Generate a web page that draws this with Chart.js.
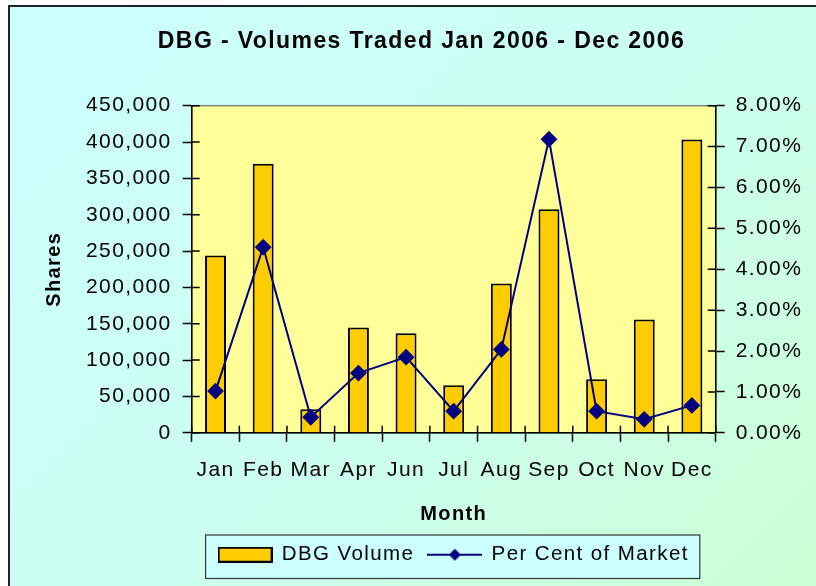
<!DOCTYPE html>
<html>
<head>
  <title>DBG - Volumes Traded</title>
  <script src="https://cdn.jsdelivr.net/npm/chart.js"></script>
  <style>
    body {
      margin: 0;
      background: #fff;
      width: 816px;
      height: 586px;
      overflow: hidden;
      position: relative;
    }
    #frame {
      position: absolute;
      left: 8px;
      top: 5px;
      width: 900px;
      height: 700px;
      border: 2px solid #222;
      background: linear-gradient(135deg, #ccffff 0%, #ccfff0 45%, #ccffcc 100%);
    }
    #myChart {
      position: absolute;
      left: 0;
      top: 0;
    }
  </style>
</head>
<body>
  <div id="frame"></div>
  <canvas id="myChart" width="816" height="586"></canvas>

  <script>
    const months = ['Jan', 'Feb', 'Mar', 'Apr', 'Jun', 'Jul', 'Aug', 'Sep', 'Oct', 'Nov', 'Dec'];
    const volumes = [244000, 370000, 32500, 145000, 137000, 65500, 205500, 307500, 73500, 156000, 403500];
    const percentOfMarket = [1.02, 4.54, 0.38, 1.46, 1.85, 0.53, 2.04, 7.18, 0.53, 0.33, 0.67];
    const volumeMax = 450000;
    const volumeStep = 50000;
    const percentMax = 8;
    const percentStep = 1;

    const SPACING = '1.4px';

    // legend symbols
    const barSwatch = document.createElement('canvas');
    barSwatch.width = 55;
    barSwatch.height = 16;
    (function () {
      const c = barSwatch.getContext('2d');
      c.fillStyle = '#ffcc00';
      c.fillRect(1, 1, 53, 14);
      c.strokeStyle = '#000';
      c.lineWidth = 2;
      c.strokeRect(1, 1, 53, 14);
    })();

    const lineSwatch = document.createElement('canvas');
    lineSwatch.width = 55;
    lineSwatch.height = 16;
    (function () {
      const c = lineSwatch.getContext('2d');
      c.strokeStyle = '#000080';
      c.lineWidth = 2;
      c.beginPath();
      c.moveTo(0, 8);
      c.lineTo(55, 8);
      c.stroke();
      c.fillStyle = '#000080';
      c.beginPath();
      c.moveTo(27.5, 2);
      c.lineTo(33.5, 8);
      c.lineTo(27.5, 14);
      c.lineTo(21.5, 8);
      c.closePath();
      c.fill();
    })();

    const textSpacing = {
      id: 'textSpacing',
      afterInit: (chart) => { chart.ctx.letterSpacing = SPACING; },
      beforeLayout: (chart) => { chart.ctx.letterSpacing = SPACING; },
      beforeDraw: (chart) => { chart.ctx.letterSpacing = SPACING; }
    };

    const plotBackground = {
      id: 'plotBackground',
      beforeDraw: (chart) => {
        const {ctx, chartArea: a, legend} = chart;
        ctx.save();
        ctx.fillStyle = '#ffff99';
        ctx.fillRect(a.left, a.top, a.right - a.left, a.bottom - a.top);
        ctx.strokeStyle = '#808080';
        ctx.lineWidth = 1.5;
        ctx.strokeRect(a.left, a.top, a.right - a.left, a.bottom - a.top);

        // box round the legend
        const pad = legend.options.labels.padding;
        const total = legend.lineWidths[0];
        const start = (legend.left + pad + legend.right - total) / 2;
        const x0 = start - 13;
        const x1 = start + total - pad + 11;
        const y0 = legend.top + 4.5;
        ctx.fillStyle = '#ccffff';
        ctx.fillRect(x0, y0, x1 - x0, 43.5);
        ctx.strokeStyle = '#333';
        ctx.lineWidth = 1.2;
        ctx.strokeRect(x0, y0, x1 - x0, 43.5);
        ctx.restore();
      }
    };

    // Excel style cross tick marks: inner half of each tick
    const innerTicks = {
      id: 'innerTicks',
      afterDraw: (chart) => {
        const {ctx, chartArea: a, scales} = chart;
        ctx.save();
        ctx.strokeStyle = '#000';
        ctx.lineWidth = 1.5;
        ctx.beginPath();
        for (let i = 0; i <= months.length; i++) {
          const px = scales.x.getPixelForValue(i - 0.5);
          ctx.moveTo(px, a.bottom);
          ctx.lineTo(px, a.bottom - 7);
        }
        scales.y.ticks.forEach(t => {
          const py = scales.y.getPixelForValue(t.value);
          ctx.moveTo(a.left, py);
          ctx.lineTo(a.left + 8, py);
        });
        scales.y1.ticks.forEach(t => {
          const py = scales.y1.getPixelForValue(t.value);
          ctx.moveTo(a.right, py);
          ctx.lineTo(a.right - 8, py);
        });
        ctx.stroke();
        ctx.restore();
      }
    };

    Chart.defaults.font.family = '"Liberation Sans", Arial, sans-serif';
    Chart.defaults.color = '#000';

    const ctx = document.getElementById('myChart').getContext('2d');
    new Chart(ctx, {
      type: 'bar',
      data: {
        labels: months,
        datasets: [{
          label: 'DBG Volume',
          data: volumes,
          yAxisID: 'y',
          backgroundColor: '#ffcc00',
          borderColor: '#000',
          borderWidth: 2,
          barPercentage: 0.44,
          categoryPercentage: 1,
          order: 2
        },
        {
          type: 'line',
          label: 'Per Cent of Market',
          data: percentOfMarket,
          yAxisID: 'y1',
          borderColor: '#000080',
          backgroundColor: '#000080',
          borderWidth: 2,
          pointStyle: 'rectRot',
          pointRadius: 7,
          pointBackgroundColor: '#000080',
          pointBorderColor: '#000080',
          tension: 0,
          order: 1
        }]
      },
      options: {
        responsive: false,
        animation: false,
        devicePixelRatio: 1,
        layout: {
          padding: {left: 27, right: 0, top: 0, bottom: 11}
        },
        scales: {
          x: {
            afterFit: (s) => { s.height = 97.7; },
            grid: {
              offset: true,
              drawOnChartArea: false,
              tickLength: 9,
              tickWidth: 1.5,
              tickColor: '#000'
            },
            border: {color: '#000', width: 1.5},
            ticks: {
              autoSkip: false,
              maxRotation: 0,
              padding: 15.6,
              font: {size: 21}
            },
            title: {
              display: true,
              text: 'Month',
              font: {size: 20, weight: 'bold'},
              padding: {top: 0, bottom: 4.5}
            }
          },
          y: {
            position: 'left',
            min: 0,
            max: volumeMax,
            afterFit: (s) => { s.width = 164.7; },
            grid: {
              drawOnChartArea: false,
              tickLength: 9,
              tickWidth: 1.5,
              tickColor: '#000'
            },
            border: {color: '#000', width: 1.5},
            ticks: {
              stepSize: volumeStep,
              padding: 11,
              font: {size: 21},
              callback: (v) => v.toLocaleString('en-US')
            },
            title: {
              display: true,
              text: 'Shares',
              font: {size: 20, weight: 'bold'},
              padding: {top: 15, bottom: 0}
            }
          },
          y1: {
            position: 'right',
            min: 0,
            max: percentMax,
            afterFit: (s) => { s.width = 100.3; },
            grid: {
              drawOnChartArea: false,
              tickLength: 9,
              tickWidth: 1.5,
              tickColor: '#000'
            },
            border: {color: '#000', width: 1.5},
            ticks: {
              stepSize: percentStep,
              padding: 11,
              font: {size: 21},
              callback: (v) => v.toFixed(2) + '%'
            }
          }
        },
        plugins: {
          title: {
            display: true,
            text: 'DBG - Volumes Traded Jan 2006 - Dec 2006',
            font: {size: 23, weight: 'bold'},
            color: '#000',
            padding: {top: 28, bottom: 50.1}
          },
          legend: {
            position: 'bottom',
            fullSize: false,
            labels: {
              usePointStyle: true,
              pointStyleWidth: 53,
              padding: 14,
              font: {size: 20.5},
              color: '#000',
              sort: (a, b) => a.datasetIndex - b.datasetIndex,
              generateLabels: (chart) => Chart.defaults.plugins.legend.labels.generateLabels(chart)
                .map((item) => Object.assign(item, {
                  pointStyle: item.datasetIndex === 0 ? barSwatch : lineSwatch,
                  rotation: 0
                }))
            }
          },
          tooltip: {enabled: false}
        }
      },
      plugins: [textSpacing, plotBackground, innerTicks]
    });
  </script>
</body>
</html>
